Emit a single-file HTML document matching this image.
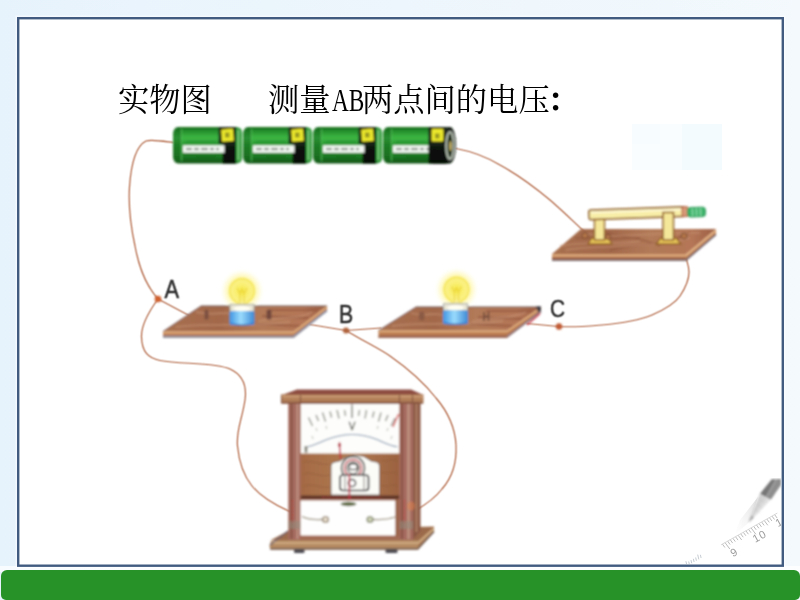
<!DOCTYPE html>
<html lang="zh-CN">
<head>
<meta charset="utf-8">
<title>实物图 测量AB两点间的电压</title>
<style>
html,body{margin:0;padding:0;}
body{width:800px;height:600px;overflow:hidden;position:relative;
  background:linear-gradient(to right,#e7f3fc 0%,#edf6fc 50%,#f3f9fd 100%);
  font-family:"Liberation Serif","Noto Serif CJK SC",serif;}
#frame{position:absolute;left:0;top:0;}
#bar{position:absolute;left:1px;top:570px;width:799px;height:30px;background:#279228;
  border-radius:6px 6px 5px 5px;}
.t{position:absolute;top:79px;height:44px;line-height:44px;font-size:31.3px;color:#000;white-space:nowrap;transform:scaleY(1.012);transform-origin:0 50%;will-change:transform;}
.t span.h{display:inline-block;width:31.3px;height:44px;vertical-align:top;}
.t span.h i{display:inline-block;font-style:normal;white-space:nowrap;transform:scaleX(.745);transform-origin:0 50%;position:relative;left:1.2px;}
.t span.c{display:inline-block;width:31.3px;text-align:center;position:relative;left:-2.5px;font-weight:700;}
#t1{left:118.35px;}
#t2{left:268.35px;}
svg{position:absolute;left:0;top:0;}
</style>
</head>
<body>
<svg id="frame" width="800" height="600" viewBox="0 0 800 600"><rect x="0" y="566" width="800" height="6" fill="#fff" opacity=".75"/><rect x="15.500" y="15.500" width="770" height="553" fill="#fff" opacity=".5"/><rect x="18.200" y="18.200" width="764.600" height="547.500" fill="#fff" stroke="#405a80" stroke-width="2.400"/></svg>
<div id="bar"></div>
<div class="t" id="t1">实物图</div>
<div class="t" id="t2">测量<span class="h"><i>AB</i></span>两点间的电压<span class="c">：</span></div>
<svg id="art" width="800" height="600" viewBox="0 0 800 600">
<defs>
  <filter id="soft" x="-2%" y="-2%" width="104%" height="104%"><feGaussianBlur stdDeviation="0.8"/></filter>
  <filter id="mild" x="-2%" y="-2%" width="104%" height="104%" color-interpolation-filters="sRGB"><feConvolveMatrix order="3" kernelMatrix="1 2 1 2 4 2 1 2 1" divisor="16" edgeMode="none" preserveAlpha="false"/></filter>
  <filter id="soft2" x="-20%" y="-20%" width="140%" height="140%"><feGaussianBlur stdDeviation="1.2"/></filter>
  <linearGradient id="batG" x1="0" y1="0" x2="0" y2="1">
    <stop offset="0" stop-color="#176a1d"/>
    <stop offset="0.12" stop-color="#25922c"/>
    <stop offset="0.30" stop-color="#3fb845"/>
    <stop offset="0.48" stop-color="#27962e"/>
    <stop offset="0.80" stop-color="#1b7a22"/>
    <stop offset="1" stop-color="#0f5216"/>
  </linearGradient>
  <linearGradient id="batK" x1="0" y1="0" x2="0" y2="1">
    <stop offset="0" stop-color="#1a2a1a"/>
    <stop offset="0.3" stop-color="#243824"/>
    <stop offset="0.6" stop-color="#0c120c"/>
    <stop offset="1" stop-color="#050805"/>
  </linearGradient>
  <linearGradient id="woodTop" x1="0" y1="0" x2="1" y2="0">
    <stop offset="0" stop-color="#a8704f"/>
    <stop offset="0.35" stop-color="#a2684a"/>
    <stop offset="0.6" stop-color="#b27a58"/>
    <stop offset="0.85" stop-color="#b47656"/>
    <stop offset="1" stop-color="#9c5e44"/>
  </linearGradient>
  <linearGradient id="blueBase" x1="0" y1="0" x2="1" y2="0">
    <stop offset="0" stop-color="#3f94e2"/>
    <stop offset="0.45" stop-color="#9adcfd"/>
    <stop offset="1" stop-color="#3c88d4"/>
  </linearGradient>
  <radialGradient id="glow" cx="0.5" cy="0.5" r="0.5">
    <stop offset="0" stop-color="#fffab0" stop-opacity="1"/>
    <stop offset="0.55" stop-color="#fdf27a" stop-opacity="0.75"/>
    <stop offset="0.8" stop-color="#fef7a8" stop-opacity="0.35"/>
    <stop offset="1" stop-color="#fffce0" stop-opacity="0"/>
  </radialGradient>
  <linearGradient id="meterWood" x1="0" y1="0" x2="1" y2="0">
    <stop offset="0" stop-color="#a46a44"/>
    <stop offset="0.5" stop-color="#b07a50"/>
    <stop offset="1" stop-color="#9c6240"/>
  </linearGradient>

  <g id="battery">
    <rect x="1" y="0" width="69" height="36.500" rx="6" ry="7" fill="url(#batG)"/>
    <rect x="1" y="0" width="9" height="36.500" rx="5" ry="7" fill="#17651d" opacity=".5"/>
    <path d="M9.500,2 V34" stroke="#58c860" stroke-width="1.200" opacity=".7"/>
    <path d="M46.500,0 H64 V36.500 H50.500 V17 H46.500 Z" fill="url(#batK)"/>
    <rect x="64" y="1" width="5.500" height="34.500" rx="2.500" fill="#2f9a38"/>
    <path d="M66.500,3 V33" stroke="#9fe0a0" stroke-width="1.300" opacity=".8"/>
    <rect x="49" y="1.500" width="13" height="13.500" rx="1.500" fill="#ece82c" stroke="#1c1c10" stroke-width="1.100" transform="rotate(-4 55 8)"/>
    <rect x="53" y="5.500" width="4.500" height="5" fill="#7e7e1c" opacity=".75"/>
    <rect x="11" y="18.300" width="41.500" height="7.500" fill="#f4f8f4"/>
    <path d="M14,22.100 h6 m2,0 h5 m2,0 h7 m2,0 h4 m2,0 h3" stroke="#7a8a7a" stroke-width="2" fill="none"/>
    <path d="M24,30 h20" stroke="#14561a" stroke-width="1" opacity=".55"/>
    <path d="M14,14.500 h30" stroke="#14561a" stroke-width="1" opacity=".35"/>
  </g>

  <g id="bulb">
    <!-- relative to bulb centre -->
    <circle cx="0" cy="0" r="22" fill="url(#glow)"/>
    <circle cx="0" cy="0" r="12.300" fill="url(#bulbFill)" stroke="#f3e248" stroke-width="1.400"/>
    <path d="M-4.500,11 L-4.500,16 L4.500,16 L4.500,11" fill="#fbf3a0" stroke="#f2e050" stroke-width="1.200"/>
    <path d="M-5,-3 L-2,3 L0,-2 L2,3 L5,-3 M-2,3 L-2,13 M2,3 L2,13" stroke="#e6cc30" stroke-width="1.100" fill="none" opacity=".8"/>
  </g>
  <radialGradient id="bulbFill" cx="0.5" cy="0.5" r="0.5">
    <stop offset="0" stop-color="#f7ea48"/>
    <stop offset="0.6" stop-color="#faf078"/>
    <stop offset="1" stop-color="#fbf28c"/>
  </radialGradient>
  <g id="socket">
    <!-- relative to (centre x, board top y) -->
    <rect x="-12" y="-1.500" width="24" height="7" fill="#e9e6d4" stroke="#9aa0a0" stroke-width=".9"/>
    <ellipse cx="0" cy="2.600" rx="8.500" ry="2.700" fill="#fffef2"/>
    <rect x="-12.500" y="5" width="25" height="14" rx="2" fill="url(#blueBase)"/>
    <path d="M-12,17.500 Q0,20.500 12,17.500" stroke="#2a6cc8" stroke-width="1.600" fill="none" opacity=".7"/>
  </g>
</defs>

<!-- faint sky patch -->
<rect x="632" y="124" width="90" height="46" fill="#f9fdff"/>
<rect x="682" y="124" width="40" height="46" fill="#f4fbff"/>
<rect x="632" y="124" width="28" height="20" fill="#f6fcff"/>

<!-- ============ wires ============ -->
<g fill="none" stroke="#b0623f" stroke-width="1.2" stroke-linecap="round" filter="url(#mild)">
  <path d="M173,142.5 C162,141 151,139 146,141 C136,146 131,165 129.5,187 C128,210 132,232 135,246 C138,262 143,282 158,299"/>
  <path d="M158,299 L190,316"/>
  <path d="M158,299 C150,310 141,325 141.5,337 C142,352 148,358 160,360.5 C180,364.5 215,362 230,369 C243,375 247,386 245,400 C242,420 236,430 237.5,446 C239,462 244,476 252,486 C262,498 277,506 291,512"/>
  <path d="M310,324.5 L346,330.5 L381,328"/>
  <path d="M346,330.5 C365,342 380,349 390,356 C410,370 425,384 436,398 C448,412 455,426 456,445 C457,465 450,480 442,489 C435,498 425,505 416,510"/>
  <path d="M527,323.5 L558.5,326.5 C575,327.5 590,326 602,325 C625,323 640,320 652,315 C668,308 676,302 680,296 C686,287 689,280 689,272 C689,266 687,262 686,258"/>
  <path d="M456,148.5 C475,152 490,159 500,165 C520,176 538,190 550,200 C565,213 577,225 587,234"/>
</g>

<g filter="url(#soft)">
<!-- ============ batteries ============ -->
<use href="#battery" x="172" y="127"/>
<use href="#battery" x="242" y="127"/>
<use href="#battery" x="312" y="127"/>
<use href="#battery" x="382" y="127"/>
<!-- right cap of last battery -->
<rect x="428.500" y="127" width="22" height="36.500" fill="url(#batK)"/>
<rect x="431" y="128.500" width="13" height="13.500" rx="1.500" fill="#ece82c" stroke="#1c1c10" stroke-width="1.100"/><rect x="435" y="133.500" width="4.500" height="5" fill="#7e7e1c" opacity=".75"/>
<ellipse cx="450" cy="145" rx="6" ry="18" fill="#1a221a"/>
<ellipse cx="450" cy="145.500" rx="3.800" ry="13.500" fill="#20301f" stroke="#c9d2c4" stroke-width="1.600"/>
<ellipse cx="450.500" cy="146" rx="1.200" ry="5" fill="#d8c070"/>

<!-- ============ switch ============ -->
<g>
  <!-- board top -->
  <polygon points="581,229 716,229 686,254 552,254" fill="url(#woodTop)"/>
  <path d="M600,231 C620,238 640,236 660,246 M610,250 C640,242 665,248 690,232 M575,238 L640,238" stroke="#8e5238" stroke-width="1.6" fill="none" opacity=".6"/>
  <path d="M566,250 C600,244 640,250 690,238 M585,233 C610,240 650,232 700,233 M560,246 C590,240 610,246 640,241" stroke="#c89474" stroke-width="1.800" fill="none" opacity=".5"/>
  <!-- board front/side -->
  <polygon points="552,254 686,254 716,229 716,235 686,261 552,261" fill="#b9794e"/>
  <path d="M552,255.500 L686,255.500 L716,230.500" stroke="#e2b183" stroke-width="1.800" fill="none"/>
  <path d="M552,260 L686,260 L716,234.500" stroke="#6f6a78" stroke-width="1.600" fill="none"/>
  <path d="M552,257.800 L686,257.800" stroke="#a2603c" stroke-width="1.400" fill="none"/>
  <!-- posts -->
  <path d="M588,244 L592,238 L608,238 L612,244 Z" fill="#e9c75a" stroke="#94622a" stroke-width="1.300"/>
  <path d="M656,244 L661,238 L676,238 L681,244 Z" fill="#e9c75a" stroke="#94622a" stroke-width="1.300"/>
  <rect x="594.500" y="217" width="10" height="23" fill="#f5e79a" stroke="#9a6a2c" stroke-width="1.600"/>
  <circle cx="585" cy="235.500" r="3" fill="#b4764a" stroke="#7a4a30" stroke-width="1"/>
  <circle cx="608" cy="237" r="2.600" fill="#b4764a" stroke="#7a4a30" stroke-width="1"/>
  <circle cx="684" cy="236" r="3" fill="#b4764a" stroke="#7a4a30" stroke-width="1"/>
  <!-- bar -->
  <g transform="rotate(-1.900 637 213)">
  <rect x="589" y="208.500" width="96" height="9.500" rx="1.500" fill="#f8eea8" stroke="#94622a" stroke-width="1.700"/>
  <path d="M591,211 L682,211" stroke="#fffbe0" stroke-width="1.500"/>
  <rect x="682" y="208.500" width="5.500" height="9.500" fill="#d89a78" stroke="#b05a3a" stroke-width="1"/>
  <rect x="687.500" y="209.300" width="18" height="9.500" rx="3" fill="#3cb46a" stroke="#2a9454" stroke-width=".9"/>
  <path d="M692.500,210.300 v7.500 M696.500,210.300 v7.500 M700.500,210.300 v7.500" stroke="#8fe0b0" stroke-width="1.200"/>
  </g>
  <rect x="663" y="212.500" width="10.500" height="27.500" fill="#f5e79a" stroke="#94622a" stroke-width="1.600"/>
</g>

<!-- ============ lamp board 1 ============ -->
<g>
  <polygon points="201,306 327,306 293.500,331.500 163,331.500" fill="url(#woodTop)"/>
  <path d="M270,310 L318,310 M262,316 L308,318 M255,324 L300,326" stroke="#8a4f38" stroke-width="1.800" fill="none" opacity=".55"/>
  <path d="M176,327 C210,322 240,328 290,322 M196,312 C215,316 225,311 232,314 M258,322 C275,316 300,320 312,312" stroke="#c9987a" stroke-width="1.800" fill="none" opacity=".5"/>
  <polygon points="163,331.500 293.500,331.500 327,306 327,311 293.500,338 163,338" fill="#b9794e"/>
  <path d="M163,332.500 L293.500,332.500 L327,307" stroke="#dca878" stroke-width="1.800" fill="none"/>
  <path d="M163,336.800 L293.500,336.800 L327,310.500" stroke="#8f95a8" stroke-width="2" fill="none"/>
  <path d="M201,306 L327,306" stroke="#6c5a58" stroke-width="1.200"/>
  <path d="M201,306 L163,331.500" stroke="#7e6a70" stroke-width="1"/>
  <!-- terminals -->
  <rect x="204.500" y="309.500" width="4" height="10" rx="1.500" fill="#7c5040"/>
  <rect x="266.500" y="309.500" width="5" height="10" rx="1.500" fill="#73493c"/>
  <!-- bulb -->
  <use href="#bulb" x="242" y="291"/>
  <use href="#socket" x="242" y="306"/>
</g>

<!-- ============ lamp board 2 ============ -->
<g>
  <polygon points="416,307 541,307 507,330.500 378.500,330.500" fill="url(#woodTop)"/>
  <path d="M486,311 L532,311 M478,317 L522,319 M470,324 L512,326" stroke="#8a4f38" stroke-width="1.800" fill="none" opacity=".55"/>
  <path d="M392,326 C425,321 455,327 503,321 M411,313 C425,317 435,312 442,315 M472,322 C490,316 512,320 526,312" stroke="#c9987a" stroke-width="1.800" fill="none" opacity=".5"/>
  <polygon points="378.500,330.500 507,330.500 541,307 541,312 507,338 378.500,338" fill="#b9794e"/>
  <path d="M378.500,331.500 L507,331.500 L541,308" stroke="#dca878" stroke-width="1.800" fill="none"/>
  <path d="M378.500,336.800 L507,336.800" stroke="#96685a" stroke-width="2" fill="none"/><path d="M507,336.800 L541,311.500" stroke="#8a7a86" stroke-width="1.600" fill="none"/>
  <path d="M416,307 L541,307" stroke="#6c5a58" stroke-width="1.200"/>
  <path d="M416,307 L378.500,330.500" stroke="#7e6a70" stroke-width="1"/>
  <rect x="419" y="311.500" width="5.500" height="9" rx="2.500" fill="#8a5a44"/>
  <path d="M484,312 V321 M488.500,312 V321 M484,316.500 H488.500" stroke="#6e483a" stroke-width="1.500" fill="none"/>
  <path d="M527,325 L540,313.500" stroke="#cc3a4a" stroke-width="1.500"/><polygon points="536,306.500 541,306.500 541,311 538,312" fill="#3c3c44"/>
  <use href="#bulb" x="456.500" y="289.500"/>
  <use href="#socket" x="455.500" y="305.200"/>
</g>

<!-- ============ voltmeter ============ -->
<g>
  <!-- base -->
  <polygon points="288,531 413,531 413,527 434,526.500 434,531.500 418,549.500 271,549.500 269.500,546" fill="#a97a54"/>
  <polygon points="288,531 434,527 418,540 271,540" fill="#9b6a4c"/>
  <polygon points="271,540.500 418,540.500 418,549.500 271,549.500 269.500,546" fill="#b48a62"/>
  <path d="M271,543 L418,543 L434,528.500" stroke="#d6b48a" stroke-width="1.600" fill="none"/>
  <path d="M270,548.800 L418,548.800 L434,531.500" stroke="#6e5a52" stroke-width="1.500" fill="none"/>
  <path d="M270,545 L288,531" stroke="#6e6470" stroke-width="1.300" fill="none"/>
  <rect x="294" y="549.500" width="10.500" height="3.500" rx="1" fill="#4a4a50"/>
  <rect x="385.500" y="549.500" width="12" height="3.500" rx="1" fill="#4a4a50"/>
  <!-- body back -->
  <rect x="288.500" y="402" width="124.500" height="138" fill="#a36a54"/>
  <!-- right side face -->
  <polygon points="413,403 420.500,403 420.500,531 413,539" fill="#8a5844"/>
  <path d="M416.500,404 V532" stroke="#c09070" stroke-width="1.200"/>
  <!-- dial -->
  <rect x="300.500" y="404" width="99" height="50" fill="#fdfdfb"/>
  <!-- wood panel -->
  <rect x="300.500" y="453.500" width="99" height="44.500" fill="url(#meterWood)"/>
  <path d="M303,462 C315,460 322,466 330,464 M303,474 C312,471 320,478 330,475 M303,486 C314,483 322,489 330,487 M381,460 C388,463 392,458 398,461 M381,472 C388,475 392,470 398,474 M381,485 C388,488 392,483 398,486" stroke="#8d5a3a" stroke-width="1" fill="none" opacity=".55"/>
  <rect x="300.500" y="495.500" width="99" height="3.500" fill="#5e3426"/>
  <path d="M322,497.300 H382" stroke="#b03040" stroke-width="1" stroke-dasharray="2 1.500"/>
  <!-- lower panel -->
  <rect x="300" y="500.500" width="95.500" height="35" fill="#fefefe"/>
  <rect x="395.500" y="499" width="4" height="37" fill="#9a6448"/>
  <!-- posts -->
  <rect x="288.500" y="403" width="12" height="137" fill="#a66c60"/>
  <path d="M291.500,404 V539" stroke="#7a4636" stroke-width="1.400"/>
  <path d="M297.500,404 V539" stroke="#c49a8a" stroke-width="1.600"/>
  <rect x="399.500" y="403" width="13.500" height="137" fill="#a66c60"/>
  <path d="M402,404 V539" stroke="#7a4636" stroke-width="1.400"/>
  <path d="M408.500,404 V539" stroke="#c8a08c" stroke-width="1.800"/>
  <path d="M292.500,500 V524 M404.500,500 V524" stroke="#c83a3a" stroke-width="1" stroke-dasharray="2 1.500"/>
  <rect x="288.500" y="521" width="12" height="8" fill="#8f8f80" opacity=".5"/>
  <rect x="399.500" y="521" width="13.500" height="8" fill="#8f8f80" opacity=".5"/>
  <!-- cap -->
  <polygon points="297,389.500 411,389.500 423.500,395 282,395" fill="#8c4c40"/>
  <polygon points="281.500,394.500 423.500,394.500 423.500,403.500 281.500,403.500" fill="#b17e58"/>
  <path d="M282,396.500 H423" stroke="#d2a47c" stroke-width="1.400"/>
  <path d="M282,402.800 H423" stroke="#7c4a38" stroke-width="1.400"/>
  <path d="M281.500,394.500 V403.500 M300.500,395 V403 M399.500,395 V403 M412.500,395 V403" stroke="#7c4a38" stroke-width="1"/>
  <!-- dial markings -->
  <g stroke="#84847e" stroke-width="1.250" fill="none">
    <path d="M308.500,417.500 L312.500,426"/>
    <path d="M316,415 L318.500,421"/>
    <path d="M322.500,412.500 L325.500,421.500"/>
    <path d="M330,411.500 L331.500,417.500"/>
    <path d="M337,410 L339,418.500"/>
    <path d="M344.500,410 L345.500,416"/>
    <path d="M352,404.500 L352,418" stroke="#6a6a64"/>
    <path d="M359.500,410 L358.500,416"/>
    <path d="M366.500,410 L365,418.500"/>
    <path d="M374,411.500 L372.500,417.500"/>
    <path d="M381,412.500 L378.500,421.500"/>
    <path d="M388,415 L385.500,421"/>
    <path d="M395,418 L391,426"/>
  </g>
  <path d="M398.500,414 L393,427" stroke="#d03a3a" stroke-width="1.300"/>
  <path d="M316,428 l1,3 M326,426 l.8,3 M378,426 l-.8,3 M388,428 l-1,3 M392,436 l-1,3 M312,436 l1,3" stroke="#b8b8b0" stroke-width="1"/>
  <text x="352" y="430" font-family="'Liberation Sans',sans-serif" font-size="10" text-anchor="middle" fill="#55554f" stroke="#55554f" stroke-width=".3">V</text>
  <path d="M306,446.800 C312,446.500 318,443 327,439.500 C338,435.500 345,434.500 352,434.500 C360,434.500 368,436 377,439.500 C386,443.500 392,446.500 397.500,446.800" stroke="#8296ae" stroke-width="1.100" fill="none"/>
  <rect x="304.500" y="446" width="3" height="6.500" fill="#8a8a80"/>
  <!-- mechanism -->
  <path d="M331,495 V466 Q331,462.500 335,462 L340,461 Q347,455 355.500,455 Q364,455 371,461 L376,462 Q379.500,462.500 379.500,466 V495 Z" fill="#fbfbf8" stroke="#6a5a50" stroke-width=".8"/>
  <circle cx="353" cy="468" r="11.500" fill="none" stroke="#55504c" stroke-width="1.600"/>
  <circle cx="353" cy="468" r="8.500" fill="none" stroke="#c03a46" stroke-width="1.400"/>
  <circle cx="353" cy="468" r="5.800" fill="none" stroke="#5a5450" stroke-width="1.300"/>
  <rect x="349.500" y="464" width="7.500" height="5.500" fill="#fff" stroke="#4c4844" stroke-width="1.300"/>
  <rect x="340" y="475" width="28.500" height="15.500" rx="3" fill="#fbfbf8" stroke="#444242" stroke-width="1.700"/>
  <path d="M345,476 V490 M364,476 V490" stroke="#8a8684" stroke-width="1"/>
  <circle cx="352" cy="483" r="3.600" fill="#fff" stroke="#444242" stroke-width="1.500"/>
  <!-- needle -->
  <path d="M339.500,446 L340.600,459 M349.400,474 V499.500" stroke="#c42a44" stroke-width="1.500" fill="none"/>
  <path d="M339.500,441.500 l1.800,3.500 l-1.800,3 l-1.800,-3 z" fill="#b8283c"/>
  <ellipse cx="348.500" cy="504" rx="8" ry="2.200" fill="#66704a"/>
  <!-- terminals -->
  <path d="M302,516.500 C308,519.500 314,520 322,519.500" stroke="#9a8e78" stroke-width="1.300" fill="none"/>
  <path d="M395,517 C388,519.500 381,520 373,519.500" stroke="#9a8e78" stroke-width="1.300" fill="none"/>
  <circle cx="325.500" cy="519.500" r="3" fill="#e6dccc" stroke="#8f7f6a" stroke-width="1.200"/>
  <circle cx="370" cy="519.500" r="3" fill="#ccd0b4" stroke="#7f8468" stroke-width="1.200"/>
  <ellipse cx="411" cy="506" rx="4" ry="4.500" fill="#e8844a" opacity=".45"/>
</g>


<!-- ============ node dots ============ -->
<circle cx="158" cy="299" r="3.300" fill="#d0602e"/>
<circle cx="346" cy="330.500" r="3" fill="#b0643c"/>
<circle cx="559" cy="326.500" r="3.200" fill="#c05a34"/>
</g>

<!-- ============ labels ============ -->
<g font-family="'Liberation Sans',sans-serif" font-size="26" fill="#303030" stroke="#303030" stroke-width=".55" filter="url(#mild)">
  <text transform="translate(164.500,298) scale(.84,1)">A</text>
  <text transform="translate(339,323) scale(.82,.97)">B</text>
  <text transform="translate(550,317) scale(.8,.95)">C</text>
</g>
<!-- ============ pencil and ruler (faint corner decoration) ============ -->
<defs><linearGradient id="pshadow" x1="1" y1="0" x2="0" y2="1"><stop offset="0" stop-color="#c4c4c4" stop-opacity=".6"/><stop offset="1" stop-color="#ececec" stop-opacity="0"/></linearGradient><clipPath id="inframe"><rect x="19" y="19" width="761.5" height="544.5"/></clipPath></defs>
<g clip-path="url(#inframe)">
<polygon points="758,497 751,519 748,523 734,536 740,520" fill="url(#pshadow)"/>
<path d="M722.4,544.1 l2.5,3.4 M725.0,542.6 l4.8,6.4 M727.6,541.1 l2.5,3.4 M730.2,539.7 l2.5,3.4 M732.8,538.2 l2.5,3.4 M735.5,536.7 l2.5,3.4 M738.1,535.2 l3.6,4.8 M740.7,533.8 l2.5,3.4 M743.3,532.3 l2.5,3.4 M745.9,530.8 l2.5,3.4 M748.5,529.3 l2.5,3.4 M751.1,527.9 l4.8,6.4 M753.7,526.4 l2.5,3.4 M756.4,524.9 l2.5,3.4 M759.0,523.5 l2.5,3.4 M761.6,522.0 l2.5,3.4 M764.2,520.5 l3.6,4.8 M766.8,519.0 l2.5,3.4 M769.4,517.6 l2.5,3.4 M772.0,516.1 l2.5,3.4 M774.6,514.6 l2.5,3.4" stroke="#b4b4b4" stroke-width=".9" fill="none"/>
<path d="M721.1,544.8 L777.3,513.1" stroke="#d4d4d4" stroke-width=".9" fill="none"/>
<path d="M687.0,566.0 l-1.1,-4.8 M689.4,564.7 l-0.7,-3.2 M691.7,563.3 l-0.7,-3.2 M694.1,562.0 l-0.7,-3.2 M696.4,560.7 l-0.7,-3.2 M698.8,559.4 l-1.1,-4.8 M701.1,558.0 l-0.7,-3.2" stroke="#c0c6cc" stroke-width=".9" fill="none"/>
<g font-family="'Liberation Sans',sans-serif" font-size="11" fill="#9c9c9c" text-anchor="middle" letter-spacing="1">
<text transform="translate(761.5,539.5) rotate(-29.4)">10</text>
<text transform="translate(736,555.5) rotate(-29.4)">9</text>
<text transform="translate(781,525.5) rotate(-29.4)">1</text>
</g>
<g filter="url(#soft)">
<polygon points="771.7,479.3 781,479.3 781,484.5 770.8,499.6 759.8,494" fill="#767676"/>
<polygon points="776.2,479.3 781,479.3 781,484.5 770.8,499.6 766,497.2" fill="#8e8e8e"/>
<path d="M776.2,479.3 L766,497.2" stroke="#b8b8b8" stroke-width=".9"/>
<polygon points="759.8,494 766,497.6 770.8,499.6 751.2,520.2 748.6,522.6 749.6,519" fill="#e0e0e0"/>
<polygon points="759.8,494 766,497.6 750.3,520.5 749.6,519" fill="#d2d2d2"/>
<polygon points="751.8,515.5 753.8,517.4 748.6,522.6" fill="#9c9c9c"/>
<path d="M760,499 l.1,.1 M763,502 l.1,.1 M758,505 l.1,.1 M761,507 l.1,.1 M756,510 l.1,.1 M765,500 l.1,.1 M759,512 l.1,.1" stroke="#aaa" stroke-width="1" stroke-linecap="round"/>
</g>
</g>


</svg>
</body>
</html>
